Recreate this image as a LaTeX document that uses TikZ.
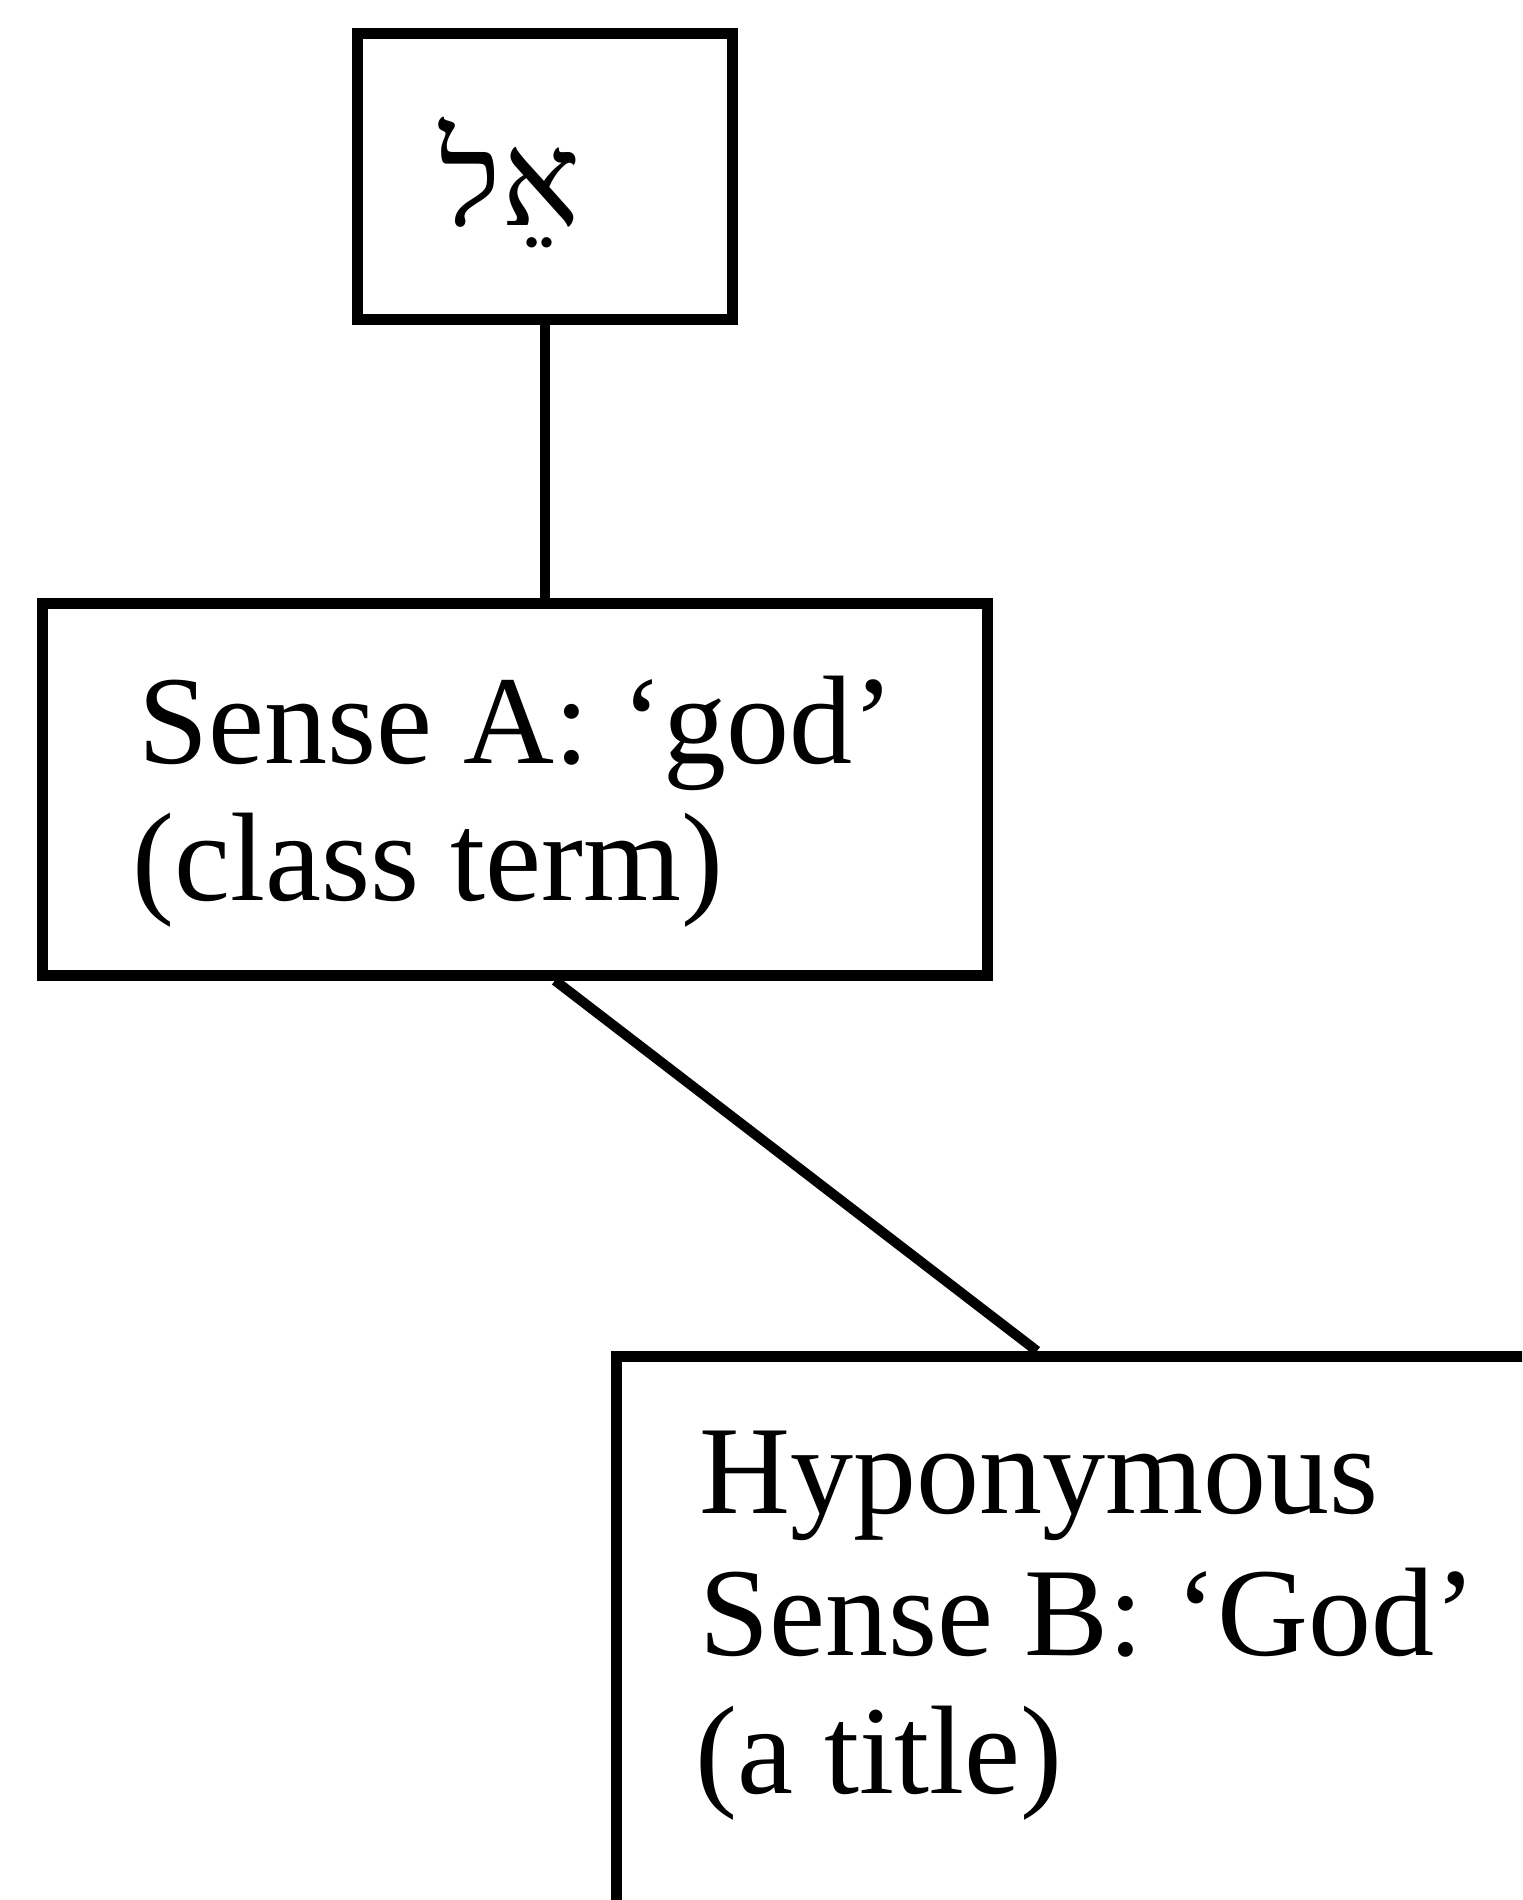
\documentclass[tikz,border=0pt]{standalone}
\usepackage{fontspec}
\setmainfont{Liberation Serif}
\newfontfamily\hebfont[Script=Hebrew]{Liberation Serif}
\TeXXeTstate=1
\begin{document}
\begin{tikzpicture}[x=0.5pt,y=-0.5pt,
  box/.style={draw=black, line width=5.5pt, inner sep=0pt},
  conn/.style={draw=black, line width=5pt},
  lbl/.style={anchor=base west, inner sep=0pt, font=\fontsize{63}{75}\selectfont},
  heb/.style={anchor=base, inner sep=0pt, font=\fontsize{66}{75}\hebfont}]
\useasboundingbox (0,0) rectangle (1522,1900);
\clip (0,0) rectangle (1522,1900);
\node[box, minimum width=187.5pt, minimum height=142.5pt] (top) at (544.5,176.5) {};
\node[heb] (hebword) at (510,225) {\beginR אֵל\endR};
\node[box, minimum width=472.5pt, minimum height=186pt] (mid) at (514.5,789) {};
\node[lbl] (senseA) at (138,763) {Sense A: ‘god’};
\node[lbl] (classterm) at (132,900) {(class term)};
\node[box, minimum width=600pt, minimum height=400pt, anchor=north west] (bot) at (611,1351) {};
\node[lbl] (hypo) at (699,1513) {Hyponymous};
\node[lbl] (senseB) at (699,1655) {Sense B: ‘God’};
\node[lbl] (atitle) at (695,1793) {(a title)};
\draw[conn] (top.south) -- (top.south |- mid.north);
\draw[conn] ([xshift=20.25pt]mid.south) -- ([xshift=213pt]bot.north west);
\end{tikzpicture}
\end{document}
